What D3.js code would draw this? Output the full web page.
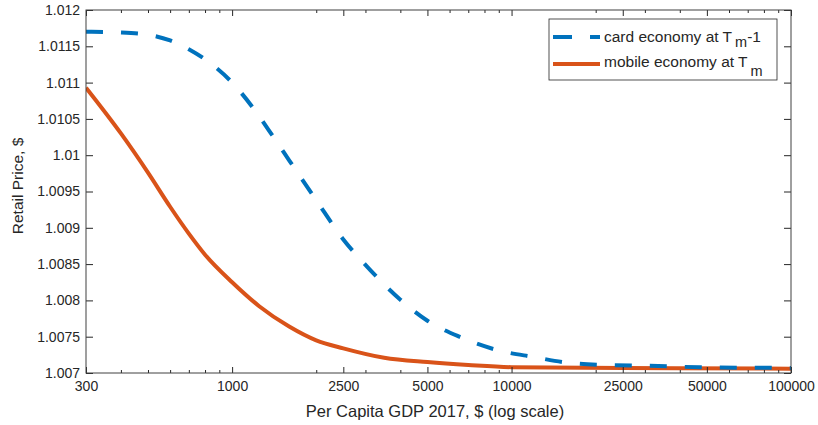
<!DOCTYPE html>
<html>
<head>
<meta charset="utf-8">
<script src="https://cdn.jsdelivr.net/npm/d3@7"></script>
<style>
  body { margin: 0; background: #fff; }
  text { font-family: "Liberation Sans", Arial, sans-serif; fill: #262626; }
</style>
</head>
<body>
<div id="chart"></div>
<script>
// card economy at T_m - 1 (dashed blue)
const cardGdp = [300, 400, 500, 600, 700, 800, 1000, 1200, 1400, 1600, 2000, 2500, 3000, 4000, 5000, 6500, 9000, 12000, 16000, 22000, 30000, 47000, 100000];
const cardPrice = [1.01170, 1.01169, 1.01166, 1.01158, 1.01146, 1.01132, 1.01100, 1.01063, 1.01026, 1.00993, 1.00938, 1.00884, 1.00849, 1.00801, 1.00772, 1.00750, 1.00731, 1.00722, 1.00714, 1.00711, 1.00710, 1.00708, 1.00707];

// mobile economy at T_m (solid orange)
const mobileGdp = [300, 400, 500, 600, 700, 800, 1000, 1250, 1600, 2000, 2500, 3500, 5000, 7000, 10000, 25000, 100000];
const mobilePrice = [1.01093, 1.01030, 1.00976, 1.00929, 1.00892, 1.00863, 1.00825, 1.00792, 1.00764, 1.00745, 1.00734, 1.00721, 1.00715, 1.00711, 1.00708, 1.00707, 1.00706];

const xTicks = [300, 1000, 2500, 5000, 10000, 25000, 50000, 100000];
const xMinorTicks = [400, 500, 600, 700, 800, 900, 2000, 3000, 4000, 6000, 7000, 8000, 9000,
  20000, 30000, 40000, 60000, 70000, 80000, 90000];
const yTicks = [1.007, 1.0075, 1.008, 1.0085, 1.009, 1.0095, 1.01, 1.0105, 1.011, 1.0115, 1.012];

const W = 818, H = 425;
const mLeft = 86, mRight = 791, mTop = 10, mBottom = 373;
const blue = '#0072BD', orange = '#D95319', axisColor = '#404040';
const fontFamily = '"Liberation Sans", Arial, sans-serif';

const svg = d3.select('#chart').append('svg')
  .attr('width', W)
  .attr('height', H);

const x = d3.scaleLog().domain([300, 100000]).range([mLeft, mRight]);
const y = d3.scaleLinear().domain([1.007, 1.012]).range([mBottom, mTop]);

const zip = (xs, ys) => xs.map((v, i) => ({ x: v, y: ys[i] }));

const line = d3.line()
  .x(d => x(d.x))
  .y(d => y(d.y))
  .curve(d3.curveMonotoneX);

svg.append('clipPath').attr('id', 'clip')
  .append('rect')
    .attr('x', mLeft).attr('y', mTop)
    .attr('width', mRight - mLeft).attr('height', mBottom - mTop);

const curves = svg.append('g').attr('clip-path', 'url(#clip)');

curves.append('path')
  .datum(zip(mobileGdp, mobilePrice))
  .attr('d', line)
  .attr('fill', 'none')
  .attr('stroke', orange)
  .attr('stroke-width', 4);

curves.append('path')
  .datum(zip(cardGdp, cardPrice))
  .attr('d', line)
  .attr('fill', 'none')
  .attr('stroke', blue)
  .attr('stroke-width', 4)
  .attr('stroke-dasharray', '17,18');

// axes, MATLAB style box with inward ticks
const fmt = d3.format('~g');
const styleText = g => g.selectAll('text')
  .attr('font-size', 14)
  .attr('fill', '#262626')
  .attr('font-family', fontFamily);

svg.append('g')
  .attr('transform', `translate(0,${mBottom})`)
  .call(d3.axisBottom(x).tickValues(xTicks).tickFormat(d3.format('d')).tickSizeInner(-6).tickSizeOuter(0).tickPadding(8))
  .call(styleText);

svg.append('g')
  .attr('transform', `translate(0,${mBottom})`)
  .call(d3.axisBottom(x).tickValues(xMinorTicks).tickFormat('').tickSizeInner(-3).tickSizeOuter(0));

svg.append('g')
  .attr('transform', `translate(0,${mTop})`)
  .call(d3.axisTop(x).tickValues(xTicks).tickFormat('').tickSizeInner(-6).tickSizeOuter(0));

svg.append('g')
  .attr('transform', `translate(0,${mTop})`)
  .call(d3.axisTop(x).tickValues(xMinorTicks).tickFormat('').tickSizeInner(-3).tickSizeOuter(0));

svg.append('g')
  .attr('transform', `translate(${mLeft},0)`)
  .call(d3.axisLeft(y).tickValues(yTicks).tickFormat(fmt).tickSizeInner(-7).tickSizeOuter(0).tickPadding(6))
  .call(styleText);

svg.append('g')
  .attr('transform', `translate(${mRight},0)`)
  .call(d3.axisRight(y).tickValues(yTicks).tickFormat('').tickSizeInner(-7).tickSizeOuter(0));

svg.selectAll('.domain').remove();
svg.selectAll('.tick line').attr('stroke', '#262626');

svg.append('rect')
  .attr('x', mLeft).attr('y', mTop)
  .attr('width', mRight - mLeft).attr('height', mBottom - mTop)
  .attr('fill', 'none')
  .attr('stroke', axisColor)
  .attr('stroke-width', 1);

// axis labels
svg.append('text')
  .attr('x', 435)
  .attr('y', 417)
  .attr('text-anchor', 'middle')
  .attr('font-size', 16.5)
  .text('Per Capita GDP 2017, $ (log scale)');

svg.append('text')
  .attr('transform', 'translate(23,186) rotate(-90)')
  .attr('text-anchor', 'middle')
  .attr('font-size', 15.5)
  .text('Retail Price, $');

// legend
const legend = svg.append('g');
legend.append('rect')
  .attr('x', 549).attr('y', 19)
  .attr('width', 228).attr('height', 61)
  .attr('fill', '#fff')
  .attr('stroke', '#262626')
  .attr('stroke-width', 0.8);

const entries = [
  { color: blue, dash: '19,18', label: 'card economy at T', sub: 'm', tail: '-1', cy: 37, base: 42, shift: 5 },
  { color: orange, dash: null, label: 'mobile economy at T', sub: 'm', tail: '', cy: 64, base: 67, shift: 9 }
];

entries.forEach(e => {
  legend.append('line')
    .attr('x1', 553).attr('x2', 600)
    .attr('y1', e.cy).attr('y2', e.cy)
    .attr('stroke', e.color)
    .attr('stroke-width', 4)
    .attr('stroke-dasharray', e.dash);
  const t = legend.append('text')
    .attr('x', 604)
    .attr('y', e.base)
    .attr('font-size', 15.5);
  t.append('tspan').text(e.label);
  t.append('tspan').attr('dx', 3).attr('dy', e.shift).attr('font-size', 14.5).text(e.sub);
  if (e.tail) t.append('tspan').attr('dy', -e.shift).text(e.tail);
});
</script>
</body>
</html>
